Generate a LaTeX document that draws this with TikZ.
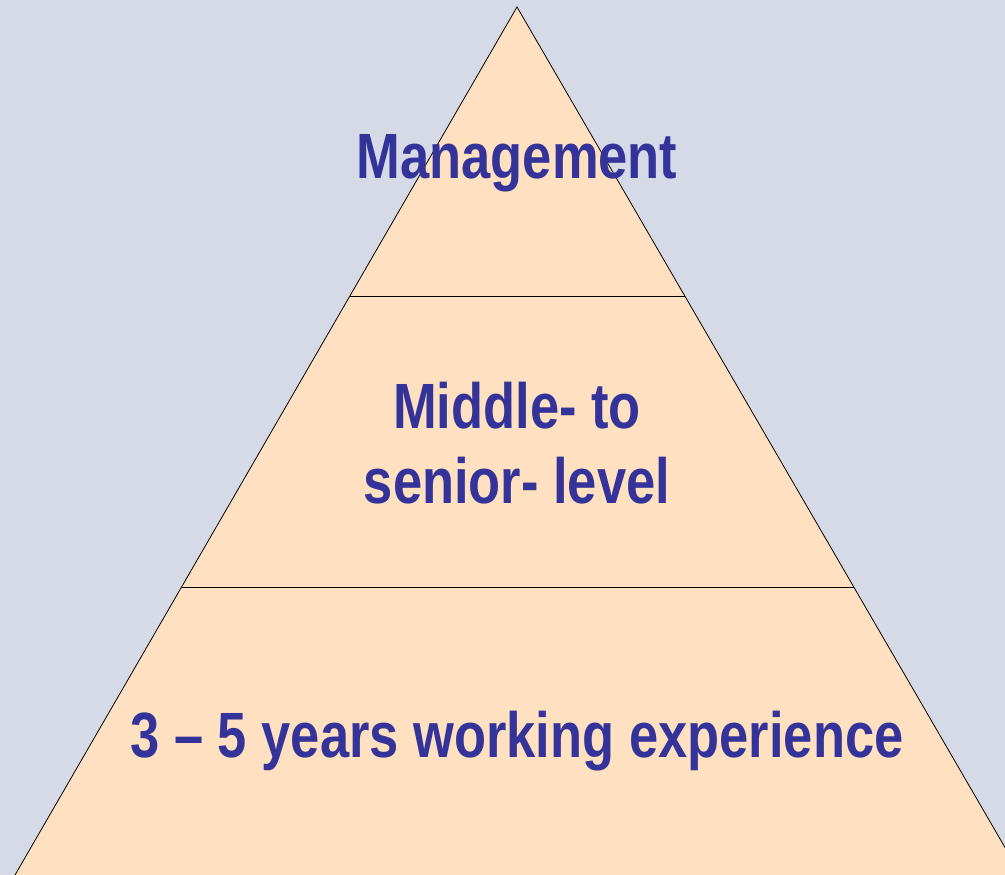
\documentclass[tikz,border=0pt]{standalone}
\usepackage{fontspec}
\setmainfont{Liberation Sans}[FakeStretch=0.82]
\definecolor{bgc}{HTML}{D5DAE6}
\definecolor{peach}{HTML}{FFE0C0}
\definecolor{txt}{HTML}{333399}
\begin{document}
\begin{tikzpicture}[x=1pt,y=-1pt,
  lbl/.style={text=txt,font=\fontsize{64}{75}\selectfont\bfseries,align=center,inner sep=0pt,anchor=base},
  edge/.style={draw=black,line width=0.8pt}]
\fill[bgc] (0,0) rectangle (1005,875);
\useasboundingbox (0,0) rectangle (1005,875);
\coordinate (apex) at (517,7);
\coordinate (bl) at (15,875);
\coordinate (br) at (1021,875);
\coordinate (l1) at (350,296);
\coordinate (r1) at (685,296);
\coordinate (l2) at (182,587);
\coordinate (r2) at (854,587);
\begin{scope}
\clip (0,0) rectangle (1005,875);
\fill[peach] (apex) -- (bl) -- (br) -- cycle;
\draw[edge] (bl) -- (apex) -- (br);
\draw[edge] (l1) -- (r1);
\draw[edge] (l2) -- (r2);
\end{scope}
\node[lbl] (t1) at (517,178) {Management};
\node[lbl,anchor=base] (t2) at (517,428) {Middle- to};
\node[lbl,anchor=base] (t3) at (517,503) {senior- level};
\node[lbl] (t4) at (517,757) {3 – 5 years working experience};
\end{tikzpicture}
\end{document}
